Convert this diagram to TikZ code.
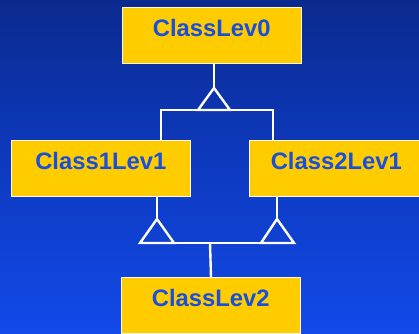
\documentclass[tikz,border=0pt]{standalone}
\usepackage{fontspec}
\setmainfont{Liberation Sans}
\definecolor{bgtop}{HTML}{0B2A8E}
\definecolor{bgmid}{HTML}{0D3AC0}
\definecolor{bgbot}{HTML}{1249E8}
\definecolor{boxfill}{HTML}{FFCC00}
\definecolor{boxtext}{HTML}{1A4EDC}
\tikzset{
  classbox/.style={draw=white!85!boxfill, line width=0.6pt, fill=boxfill,
    inner sep=0pt, minimum width=179pt, text height=29pt, text depth=27pt,
    text=boxtext, font=\bfseries\fontsize{23.8}{26}\selectfont},
  link/.style={draw=white, line width=2.4pt},
  inherit/.style={draw=white, line width=2.4pt, line join=miter}
}
\begin{document}
\begin{tikzpicture}[x=1pt, y=-1pt]
  % background
  \shade[top color=bgtop, bottom color=bgbot, middle color=bgmid] (0,0) rectangle (419,333);
  \useasboundingbox (0,0) rectangle (419,333);

  % class boxes
  \node[classbox, anchor=north west] (c0) at (122,7) {ClassLev0};
  \node[classbox, anchor=north west] (c1) at (11,140) {Class1Lev1};
  \node[classbox, anchor=north west, minimum width=180pt] (c2) at (249,140) {\hspace*{-6pt}Class2Lev1};
  \node[classbox, anchor=north west] (c3) at (121,277) {ClassLev2};

  % inheritance triangles
  \coordinate (t0) at (214,88);
  \coordinate (t1) at (157,219);
  \coordinate (t2) at (277,219);
  \draw[inherit] (t0) -- ++(-16,22) -- ++(32,0) -- cycle;
  \draw[inherit] (t1) -- ++(-17,24) -- ++(34,0) -- cycle;
  \draw[inherit] (t2) -- ++(-16,24) -- ++(33,0) -- cycle;

  % connectors
  \draw[link] (c0.south -| t0) -- (t0);
  \draw[link] (c1.north -| 161,0) -- (161,110) -- (273,110) -- (c2.north -| 273,0);
  \draw[link] (c1.south -| t1) -- (t1);
  \draw[link] (c2.south -| t2) -- (t2);
  \draw[link] (174,243) -- (261,243);
  \draw[link] (210,243) -- (c3.north -| 211,0);
\end{tikzpicture}
\end{document}
